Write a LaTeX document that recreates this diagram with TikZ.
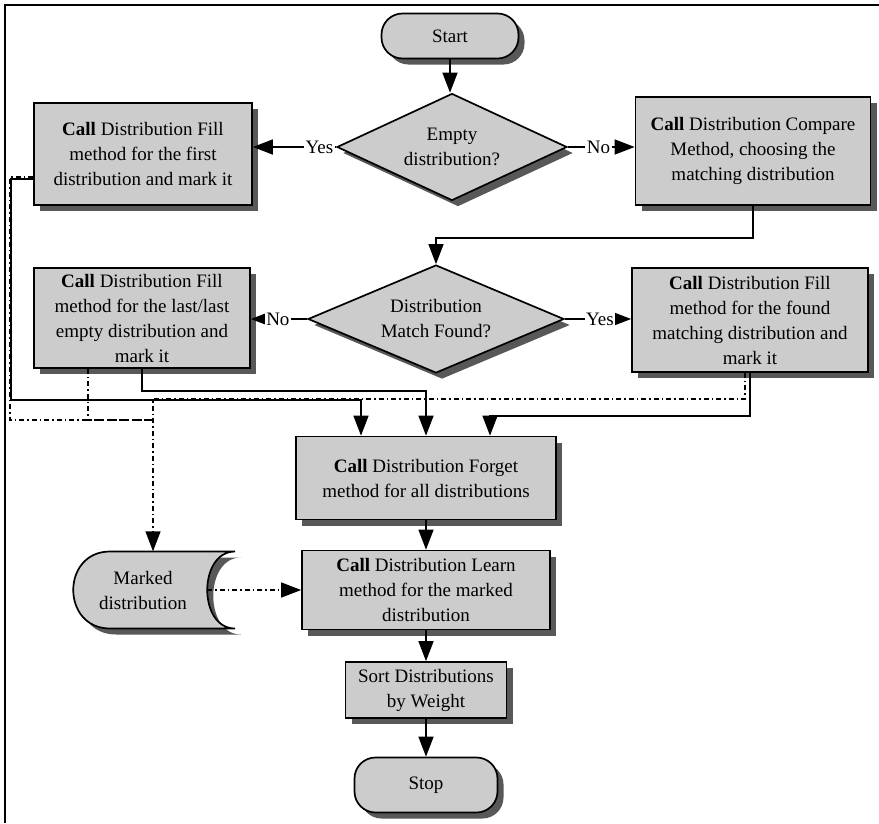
\documentclass[tikz,border=0pt]{standalone}
\usepackage{fontspec}
\setmainfont{Liberation Serif}
\usetikzlibrary{shapes.geometric,shadows,arrows.meta,backgrounds,calc}

\definecolor{boxgray}{RGB}{204,204,204}
\definecolor{shadowgray}{RGB}{88,88,88}

\begin{document}
\begin{tikzpicture}[x=1pt,y=-1pt,
  boxshadow/.style={drop shadow={shadow xshift=6pt,shadow yshift=-6pt,fill=shadowgray,opacity=1}},
  txt/.style={font=\fontsize{19}{25}\selectfont},
  proc/.style={txt,draw,line width=1.7pt,fill=boxgray,boxshadow,align=center,inner sep=2pt},
  term/.style={proc,rounded corners=21pt},
  decide/.style={proc,diamond,inner sep=0pt},
  arr/.style={line width=1.4pt,-{Triangle[length=20pt,width=15pt]}},
  markline/.style={line width=1.4pt,dash pattern=on 5pt off 3pt on 1.5pt off 3pt},
  markarr/.style={markline,-{Triangle[length=20pt,width=15pt]}},
  lbl/.style={txt,fill=white,inner sep=1.5pt}]

% page and frame
\useasboundingbox (0,0) rectangle (879,823);
\begin{scope}[on background layer]
\fill[white] (0,0) rectangle (879,823);
\end{scope}
\draw[line width=2.5pt] (5,823) -- (5,5) -- (879,5);

% Top part
\node[term,minimum width=137,minimum height=45] (start) at (450,36) {Start};
\node[decide,aspect=2.15,minimum width=230,minimum height=107] (empty) at (452,147) {Empty\\distribution?};
\node[proc,minimum width=218,minimum height=102] (fillfirst) at (143,154)
  {\textbf{Call} Distribution Fill\\method for the first\\distribution and mark it};
\node[proc,minimum width=235,minimum height=108] (compare) at (753,151)
  {\textbf{Call} Distribution Compare\\Method, choosing the\\matching distribution};

% Match part
\node[decide,aspect=2.37,minimum width=256,minimum height=108] (match) at (436,319) {Distribution\\Match Found?};
\node[proc,minimum width=216,minimum height=100] (filllast) at (142,318)
  {\textbf{Call} Distribution Fill\\method for the last/last\\empty distribution and\\mark it};
\node[proc,minimum width=236,minimum height=104] (fillfound) at (750,320)
  {\textbf{Call} Distribution Fill\\method for the found\\matching distribution and\\mark it};

% Bottom part
\node[proc,minimum width=260,minimum height=83] (forget) at (426,478)
  {\textbf{Call} Distribution Forget\\method for all distributions};
\node[proc,minimum width=248,minimum height=79] (learn) at (426,590)
  {\textbf{Call} Distribution Learn\\method for the marked\\distribution};
\node[proc,minimum width=161,minimum height=56] (sort) at (426,690) {Sort Distributions\\by Weight};
\node[term,minimum width=143,minimum height=55] (stop) at (426,785) {Stop};

% Stored data
\node[txt,align=center,minimum height=77] (marked) at (143,590) {Marked\\distribution};
\begin{scope}[on background layer]
\draw[line width=1.7pt,fill=boxgray,boxshadow]
  ($(marked)+(-33,-38.5)$) -- ($(marked)+(92,-38.5)$)
  .. controls ($(marked)+(55,-38.5)$) and ($(marked)+(55,38.5)$) .. ($(marked)+(92,38.5)$)
  -- ($(marked)+(-33,38.5)$)
  .. controls ($(marked)+(-82,38.5)$) and ($(marked)+(-82,-38.5)$) .. ($(marked)+(-33,-38.5)$) -- cycle;
\end{scope}
\coordinate (mkin) at ([xshift=10pt]marked.north);
\coordinate (mkA) at (0,399);
\coordinate (mkB) at (0,420);

% Main flow
\draw[arr] (start) -- (start |- empty.north);
\draw[arr] (empty.west) -- node[lbl,pos=0.2] {Yes} (empty.west -| fillfirst.east);
\draw[arr] (empty.east) -- node[lbl,pos=0.46] {No} (empty.east -| compare.west);
\draw[arr] (compare.south) -- ++(0,32) -| (match.north);
\draw[arr] (match.west) -- node[lbl,pos=0.52] {No} (match.west -| filllast.east);
\draw[arr] (match.east) -- node[lbl,pos=0.53] {Yes} (match.east -| fillfound.west);

% Into forget
\draw[arr] ([yshift=-25pt]fillfirst.west) -- ++(-22,0) -- ++(0,221) -| ([xshift=-65pt]forget.north);
\draw[arr] (filllast.south) -- ++(0,22) -| (forget.north);
\draw[arr] (fillfound.south) -- ++(0,43) -| ([xshift=64pt]forget.north);
\draw[arr] (forget) -- (learn);
\draw[arr] (learn) -- (sort);
\draw[arr] (sort) -- (stop);

% Marking
\draw[markarr] ([xshift=-5pt]fillfound.south) |- (mkin |- mkA) -- (mkin);
\draw[markline] ([yshift=-23pt]fillfirst.west) -- ++(-23,0) |- (mkin |- mkB);
\draw[markline] ([xshift=-54pt]filllast.south) |- (mkin |- mkB);
\draw[markarr] ([xshift=64pt]marked.center) -- (learn.west);

\end{tikzpicture}
\end{document}
